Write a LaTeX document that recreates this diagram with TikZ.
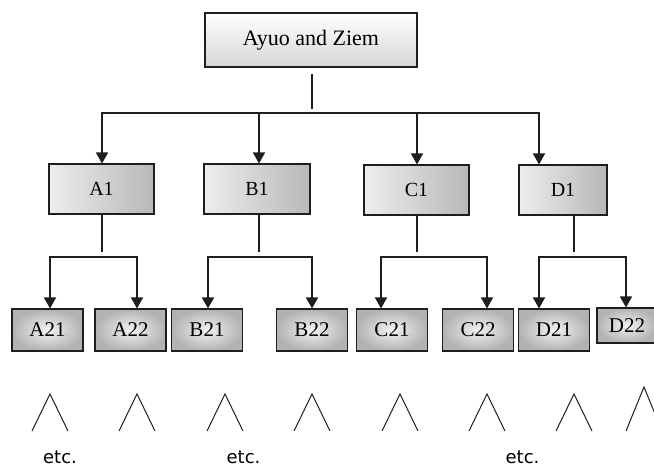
\documentclass[tikz,border=0pt]{standalone}
\usepackage{fontspec}
\setmainfont{Liberation Serif}
\newfontfamily\etcfont{DejaVu Sans}
\usetikzlibrary{arrows.meta,positioning}
\definecolor{edge}{RGB}{30,30,30}
\tikzset{
  rootbox/.style={draw=edge, line width=1.1pt, top color=white, bottom color=black!16,
              minimum width=212pt, minimum height=54pt, inner sep=0pt, font=\fontsize{22}{26}\selectfont},
  kinbox/.style={draw=edge, line width=1.1pt, left color=black!7, right color=black!28,
              minimum height=50pt, inner sep=0pt, font=\fontsize{20}{24}\selectfont},
  leafbox/.style={draw=edge, line width=1.1pt, inner color=black!5, outer color=black!30,
              minimum width=71pt, minimum height=42pt, inner sep=0pt, font=\fontsize{21}{25}\selectfont},
  stem/.style={line width=1.1pt, edge},
  bar/.style={line width=1.6pt, edge, line cap=rect},
  flow/.style={-{Triangle[length=11pt,width=12pt]}, line width=1.6pt, edge},
  fork/.style={line width=1pt, edge},
  etcnote/.style={font=\etcfont\fontsize{18}{20}\selectfont, anchor=base, inner sep=0pt},
}
\begin{document}
\begin{tikzpicture}[x=1pt, y=-1pt]
  \useasboundingbox (0,0) rectangle (654,468);
  \clip (0,0) rectangle (654,468);
  % parents
  \node[rootbox] (root) at (311,40) {Ayuo and Ziem};
  % first generation
  \node[kinbox, minimum width=105pt] (A1) at (101.5,189) {A1};
  \node[kinbox, minimum width=106pt] (B1) at (257,189) {B1};
  \node[kinbox, minimum width=105pt] (C1) at (416.5,190) {C1};
  \node[kinbox, minimum width=88pt] (D1) at (563,190) {D1};
  % second generation
  \node[leafbox] (A21) at (47.5,330) {A21};
  \node[leafbox] (A22) at (130.5,330) {A22};
  \node[leafbox] (B21) at (207,330) {B21};
  \node[leafbox] (B22) at (312,330) {B22};
  \node[leafbox] (C21) at (392,330) {C21};
  \node[leafbox] (C22) at (478,330) {C22};
  \node[leafbox] (D21) at (554,330) {D21};
  \node[leafbox, minimum width=60pt, minimum height=35pt] (D22) at (627,325.5) {D22};
  % parents to first generation
  \coordinate (rootstem) at (312,74);
  \coordinate (rootfoot) at (312,109);
  \coordinate (barA) at (102,113);
  \coordinate (barB) at (259,113);
  \coordinate (barC) at (417,113);
  \coordinate (barD) at (539,113);
  \draw[stem] (rootstem) -- (rootfoot);
  \draw[bar] (barA) -- (barD);
  \foreach \k in {A,B,C,D}
    \draw[flow] (bar\k) -- (bar\k |- \k1.north);
  % first to second generation
  \foreach \k/\s/\l/\r in {A/102/50/137, B/259/208/312, C/417/381/487, D/574/539/626} {
    \coordinate (\k-foot) at (\s,252);
    \coordinate (\k-left) at (\l,257);
    \coordinate (\k-right) at (\r,257);
    \draw[stem] (\k-foot |- \k1.south) -- (\k-foot);
    \draw[bar] (\k-left) -- (\k-right);
    \draw[flow] (\k-left) -- (\k-left |- \k21.north);
    \draw[flow] (\k-right) -- (\k-right |- \k22.north);
  }
  % further branches
  \foreach \x in {50,137,225,312,400,487,574}
    \draw[fork] (\x-18,431) -- (\x,394) -- (\x+18,431);
  \draw[fork] (626,431) -- (644,387) -- (662,431);
  \node[etcnote] (etc1) at (60,463) {etc.};
  \node[etcnote] (etc2) at (243.5,463) {etc.};
  \node[etcnote] (etc3) at (522.5,463) {etc.};
\end{tikzpicture}
\end{document}
